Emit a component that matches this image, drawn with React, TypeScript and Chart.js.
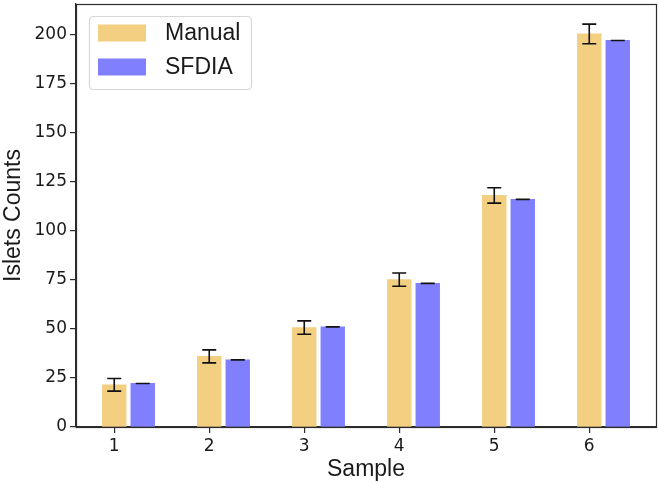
import React, { useEffect, useRef } from "react";
import { Chart, registerables } from "chart.js";

Chart.register(...registerables);

// ---- data ----
const SAMPLES = ["1", "2", "3", "4", "5", "6"];
const MANUAL = [21.5, 36, 50.7, 75.1, 118, 200.3];
const MANUAL_ERR = [3.2, 3.3, 3.4, 3.4, 3.9, 5.0];
const SFDIA = [22.2, 34.2, 51.0, 73.2, 116.0, 197.0];
const SFDIA_ERR = [0, 0, 0, 0, 0, 0];
const Y_TICKS = [0, 25, 50, 75, 100, 125, 150, 175, 200];

// ---- layout / style constants ----
const W = 660;
const H = 483;
const PLOT_LEFT = 76;
const PLOT_RIGHT = 656;
const PLOT_TOP = 4;
const PLOT_BOTTOM = 427;
const BAR_WIDTH = 0.25; // in x units
const OFFSET = 0.3; // SFDIA offset in x units
const MANUAL_COLOR = "#F3CF82";
const SFDIA_COLOR = "#8080FF";
const AXIS_COLOR = "#2b2b2b";
const TICK_FONT = "'DejaVu Sans', sans-serif";
const LABEL_FONT = "'Liberation Sans', Arial, sans-serif";

const firstEdge = 1 - BAR_WIDTH / 2;
const lastEdge = SAMPLES.length + OFFSET + BAR_WIDTH / 2;
const xMargin = 0.05 * (lastEdge - firstEdge);
const X_MIN = firstEdge - xMargin;
const X_MAX = lastEdge + xMargin;
const maxTop = Math.max(
  ...MANUAL.map((v, i) => v + MANUAL_ERR[i]),
  ...SFDIA.map((v, i) => v + SFDIA_ERR[i])
);
const Y_MAX = maxTop * 1.05;
const BAR_PX = (BAR_WIDTH * (PLOT_RIGHT - PLOT_LEFT)) / (X_MAX - X_MIN);

const errorBarPlugin = {
  id: "errorBars",
  afterDatasetsDraw(chart: any) {
    const ctx = chart.ctx;
    const yScale = chart.scales.y;
    chart.data.datasets.forEach((ds: any, di: number) => {
      const errs: number[] = ds.errors || [];
      const meta = chart.getDatasetMeta(di);
      meta.data.forEach((el: any, i: number) => {
        const v = ds.data[i].y;
        const e = errs[i] ?? 0;
        const x = el.x;
        const yTop = yScale.getPixelForValue(v + e);
        const yBot = yScale.getPixelForValue(v - e);
        const cap = 7;
        ctx.save();
        ctx.strokeStyle = "#111";
        ctx.lineWidth = 1.6;
        ctx.beginPath();
        ctx.moveTo(x, yTop);
        ctx.lineTo(x, yBot);
        ctx.moveTo(x - cap, yTop);
        ctx.lineTo(x + cap, yTop);
        ctx.moveTo(x - cap, yBot);
        ctx.lineTo(x + cap, yBot);
        ctx.stroke();
        ctx.restore();
      });
    });
  },
};

const framePlugin = {
  id: "frame",
  afterDraw(chart: any) {
    const { ctx, chartArea } = chart;
    ctx.save();
    ctx.strokeStyle = AXIS_COLOR;
    ctx.lineWidth = 1.2;
    ctx.strokeRect(
      Math.round(chartArea.left) + 0.5,
      Math.round(chartArea.top) + 0.5,
      Math.round(chartArea.right - chartArea.left),
      Math.round(chartArea.bottom - chartArea.top)
    );
    ctx.restore();
  },
};

const legendPlugin = {
  id: "boxLegend",
  afterDraw(chart: any) {
    const { ctx, chartArea } = chart;
    const bx = chartArea.left + 13;
    const by = chartArea.top + 12;
    const bw = 162;
    const bh = 73;
    ctx.save();
    ctx.fillStyle = "rgba(255,255,255,0.85)";
    ctx.strokeStyle = "#d6d6d6";
    ctx.lineWidth = 1.2;
    ctx.beginPath();
    (ctx as any).roundRect(bx + 0.5, by + 0.5, bw, bh, 4);
    ctx.fill();
    ctx.stroke();
    ctx.font = `23px ${LABEL_FONT}`;
    ctx.textBaseline = "middle";
    ctx.textAlign = "left";
    chart.data.datasets.forEach((ds: any, i: number) => {
      const rowY = by + 17 + i * 34;
      ctx.fillStyle = ds.backgroundColor;
      ctx.fillRect(bx + 9, rowY - 8.5, 48, 17);
      ctx.fillStyle = "#1a1a1a";
      ctx.fillText(ds.label, bx + 76, rowY + 1);
    });
    ctx.restore();
  },
};

export default function App() {
  const canvasRef = useRef<HTMLCanvasElement | null>(null);

  useEffect(() => {
    if (!canvasRef.current) return;
    const chart = new Chart(canvasRef.current, {
      type: "bar",
      data: {
        datasets: [
          {
            label: "Manual",
            data: MANUAL.map((v, i) => ({ x: i + 1, y: v })),
            errors: MANUAL_ERR,
            backgroundColor: MANUAL_COLOR,
            borderWidth: 0,
            barThickness: BAR_PX,
            grouped: false,
          } as any,
          {
            label: "SFDIA",
            data: SFDIA.map((v, i) => ({ x: i + 1 + OFFSET, y: v })),
            errors: SFDIA_ERR,
            backgroundColor: SFDIA_COLOR,
            borderWidth: 0,
            barThickness: BAR_PX,
            grouped: false,
          } as any,
        ],
      },
      options: {
        animation: false,
        responsive: true,
        maintainAspectRatio: false,
        layout: {
          padding: { top: PLOT_TOP, right: W - PLOT_RIGHT, left: 0, bottom: 0 },
        },
        plugins: {
          legend: { display: false },
          tooltip: { enabled: false },
        },
        scales: {
          x: {
            type: "linear",
            offset: false,
            min: X_MIN,
            max: X_MAX,
            afterBuildTicks: (scale: any) => {
              scale.ticks = SAMPLES.map((_, i) => ({ value: i + 1 }));
            },
            afterFit: (scale: any) => {
              scale.height = H - PLOT_BOTTOM;
              scale.paddingLeft = 0;
              scale.paddingRight = 0;
            },
            ticks: {
              autoSkip: false,
              maxRotation: 0,
              padding: 3,
              color: "#1a1a1a",
              font: { family: TICK_FONT, size: 17 },
              callback: (value: any) => {
                const idx = Math.round(Number(value)) - 1;
                return SAMPLES[idx] ?? "";
              },
            },
            grid: {
              offset: false,
              drawOnChartArea: false,
              drawTicks: true,
              tickLength: 6,
              color: AXIS_COLOR,
              lineWidth: 1.2,
            },
            border: { display: true, color: AXIS_COLOR, width: 1.2 },
            title: {
              display: true,
              text: "Sample",
              color: "#1a1a1a",
              font: { family: LABEL_FONT, size: 23 },
              padding: { top: 0, bottom: 0 },
            },
          },
          y: {
            type: "linear",
            min: 0,
            max: Y_MAX,
            afterBuildTicks: (scale: any) => {
              scale.ticks = Y_TICKS.map((v) => ({ value: v }));
            },
            afterFit: (scale: any) => {
              scale.width = PLOT_LEFT;
              scale.paddingTop = 0;
              scale.paddingBottom = 0;
            },
            ticks: {
              padding: 3,
              color: "#1a1a1a",
              font: { family: TICK_FONT, size: 17 },
              callback: (value: any) => String(value),
            },
            grid: {
              drawOnChartArea: false,
              drawTicks: true,
              tickLength: 6,
              color: AXIS_COLOR,
              lineWidth: 1.2,
            },
            border: { display: true, color: AXIS_COLOR, width: 1.2 },
            title: {
              display: true,
              text: "Islets Counts",
              color: "#1a1a1a",
              font: { family: LABEL_FONT, size: 23 },
              padding: { top: 0, bottom: 0 },
            },
          },
        },
      } as any,
      plugins: [errorBarPlugin, framePlugin, legendPlugin],
    });
    return () => chart.destroy();
  }, []);

  return (
    <div
      style={{
        position: "absolute",
        left: 0,
        top: 0,
        width: W,
        height: H,
        background: "#fff",
      }}
    >
      <canvas ref={canvasRef} />
    </div>
  );
}
